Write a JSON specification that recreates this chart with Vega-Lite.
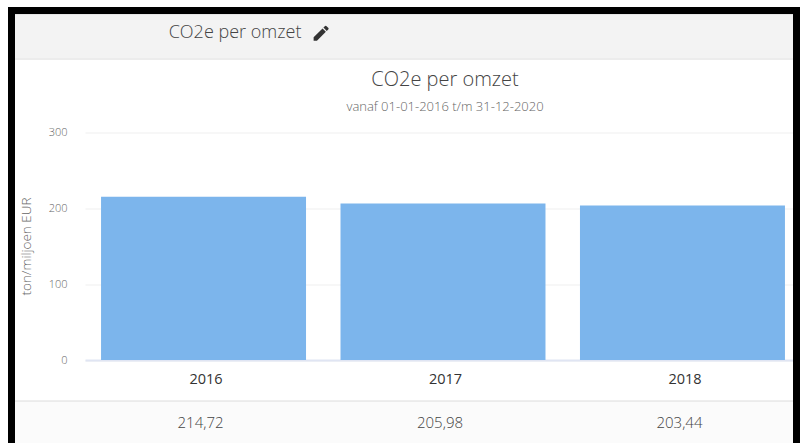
{
"$schema":"https://vega.github.io/schema/vega-lite/v6.json",
"width":785,"height":349.5,
"autosize":{"type":"none"},
"padding":{"left":11.5,"top":10.5,"right":3.5,"bottom":83},
"background":"white",
"config":{"view":{"stroke":null},"font":"Open Sans"},
"title":{"text":"CO2e per omzet","subtitle":"vanaf 01-01-2016 t/m 31-12-2020","anchor":"middle","dx":41,"offset":-107,"fontSize":20,"fontWeight":300,"color":"#444","subtitleFontSize":13,"subtitleFontWeight":300,"subtitleColor":"#666","subtitlePadding":11},
"layer":[
{"data":{"values":[{}]},"mark":{"type":"rect","fill":"#f3f3f3","stroke":"#e2e2e2"},
 "encoding":{"y":{"datum":455,"type":"quantitative","scale":{"domain":[0,460],"nice":false},
   "axis":{"values":[0,100,200,300],"grid":true,"gridColor":"#efefef","domain":false,"ticks":false,"offset":-73.5,"labelPadding":18,"labelFontSize":11,"labelFontWeight":300,"labelColor":"#666",
       "title":"ton/miljoen EUR","titleFontSize":13.5,"titleFontWeight":300,"titleColor":"#666","titleY":235.5,"titleX":-52}},"y2":{"datum":396}}},
{"data":{"values":[{}]},"mark":{"type":"rect","fill":"#fbfbfb","stroke":"#dcdcdc"},
 "encoding":{"y":{"datum":-54,"type":"quantitative"},"y2":{"datum":-130}}},
{"data":{"values":[{"jaar":"2016","waarde":214.72,"label":"214,72"},{"jaar":"2017","waarde":205.98,"label":"205,98"},{"jaar":"2018","waarde":203.44,"label":"203,44"}]},
 "encoding":{"x":{"field":"jaar","type":"nominal","scale":{"range":[73.5,789.5],"paddingInner":0.144,"paddingOuter":0.067},
   "axis":{"title":null,"labelAngle":0,"labelFontSize":14.5,"labelFontWeight":400,"labelColor":"#333","labelPadding":12,"labelOffset":2.5,"ticks":false,"domainColor":"#e0e5f3","domainWidth":2,"grid":false}}},
 "layer":[
  {"mark":{"type":"bar","color":"#7cb5ec"},
   "encoding":{"y":{"field":"waarde","type":"quantitative"}}},
  {"mark":{"type":"text","fontSize":15,"fontWeight":300,"color":"#444","baseline":"middle","dx":-3},
   "encoding":{"y":{"datum":-83,"type":"quantitative"},"text":{"field":"label"}}}
 ]},
{"data":{"values":[{"tekst":"CO2e per omzet"}]},"mark":{"type":"text","fontSize":18,"fontWeight":300,"color":"#444","baseline":"middle"},
 "encoding":{"x":{"datum":"2016"},"xOffset":{"value":134},"y":{"datum":430,"type":"quantitative"},"text":{"field":"tekst"}}},
{"data":{"values":[{"icoon":"potlood"}]},"mark":{"type":"point","filled":true,"opacity":1,"color":"#333","size":220,"shape":"M-0.55 1 L-1 1 L-1 0.55 L0.2 -0.65 L0.65 -0.2 Z M0.32 -0.77 L0.55 -1 Q0.62 -1.05 0.7 -1 L1 -0.7 Q1.05 -0.62 1 -0.55 L0.77 -0.32 Z"},
 "encoding":{"x":{"datum":"2016"},"xOffset":{"value":220},"y":{"datum":430,"type":"quantitative"}}},
{"data":{"values":[{}]},"mark":{"type":"rect","fill":"transparent","stroke":"black","strokeWidth":7},
 "encoding":{"y":{"datum":459.9,"type":"quantitative"},"y2":{"datum":-200}}}
]
}
